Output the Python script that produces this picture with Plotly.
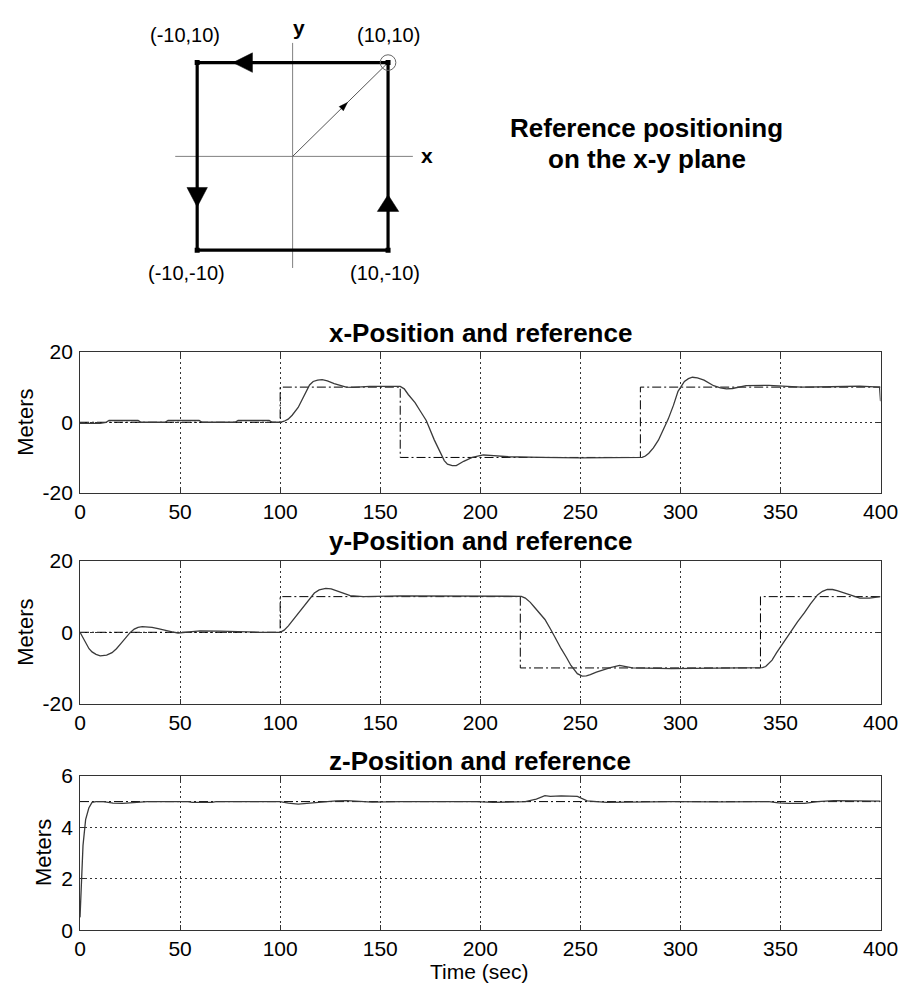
import math
import plotly.graph_objects as go

W, H = 919, 993
FONT = "Liberation Sans, Arial, sans-serif"

# ---------------- data ----------------
# square path on the x-y plane (metres)
square_x = [-10, 10, 10, -10, -10]
square_y = [10, 10, -10, -10, 10]
corner_labels = ["(-10,10)", "(10,10)", "(-10,-10)", "(10,-10)"]
corner_x = [-10, 10, -10, 10]
corner_y = [10, 10, -10, -10]
axis_x_extent = [-12.3, 12.6]
axis_y_extent = [-11.9, 12.1]
start_x = [0, 10]
start_y = [0, 10]

# time axis ticks
time_ticks = [0, 50, 100, 150, 200, 250, 300, 350, 400]

# x-position: measured and reference
x_t = [0, 5, 10, 13, 14.5, 29, 30.5, 42.5, 44, 59.5, 61, 77.5, 79, 94.5, 96, 100, 102, 104,
       106, 109, 112, 114.7, 116.5, 118.7, 121, 123.6, 127, 130, 133, 136.6, 140, 144.7, 160,
       162, 164, 167.4, 170, 173, 177, 180.4, 182, 183.6, 186, 188, 191.7, 196, 201.5, 205,
       214, 230, 250, 280.9, 282.5, 284.2, 286.5, 289, 291.5, 293.9, 296.5, 298.8, 302, 304,
       306, 308.5, 311.8, 314, 316.6, 320, 323, 326, 332.8, 344.2, 360.4, 375, 389.6, 399.5,
       400]
x_v = [-0.3, -0.4, -0.3, 0.0, 0.5, 0.5, 0.0, 0.0, 0.5, 0.5, 0.0, 0.0, 0.5, 0.5, 0.0, 0.0,
       0.3, 0.9, 2.0, 4.2, 7.8, 10.6, 11.6, 12.0, 12.1, 11.8, 11.0, 10.4, 10.0, 9.9, 10.0,
       10.2, 10.2, 9.5, 7.9, 5.6, 3.2, 0.5, -5.0, -9.3, -10.9, -11.9, -12.3, -12.3, -11.1,
       -10.0, -9.3, -9.4, -9.8, -10.0, -10.1, -10.0, -9.6, -8.8, -7.3, -5.1, -2.2, 0.9, 4.8,
       8.8, 11.6, 12.4, 12.8, 12.6, 12.0, 11.2, 10.4, 9.8, 9.5, 9.6, 10.4, 10.5, 10.0, 10.1,
       10.3, 10.0, 6.0]
x_ref_t = [0, 100, 160, 280, 400]
x_ref_v = [0, 10, -10, 10, 10]

# y-position: measured and reference
y_t = [0, 1.5, 2.8, 4.5, 6, 8, 10.1, 13.3, 16, 18.2, 20.5, 23, 25, 27.1, 29, 31.1, 34, 36,
       39, 42.5, 46, 49, 55, 60, 70, 80, 90, 100, 102, 104.1, 107, 110.6, 114, 117.1, 119.5,
       122.8, 125.5, 128.5, 131.5, 135, 141.5, 160, 186.9, 200, 219.3, 220.5, 222.5, 225,
       227.4, 230, 232.3, 235.5, 238, 240.4, 243, 245.3, 248.5, 250.9, 253, 255, 258, 261.5,
       265, 269.6, 272, 276, 295.5, 320, 339.3, 341, 342.6, 345.8, 348, 350.7, 353, 355.6,
       358.5, 362, 365, 368.5, 371, 373.4, 376, 378.3, 381.5, 384.8, 389.6, 394.5, 400]
y_v = [0.0, -1.5, -3.2, -4.6, -5.5, -6.2, -6.6, -6.4, -5.7, -4.6, -3.1, -1.4, -0.1, 0.9, 1.4,
       1.6, 1.6, 1.4, 1.0, 0.5, 0.1, -0.2, 0.2, 0.4, 0.3, 0.1, 0.0, 0.0, 0.6, 1.8, 3.9, 6.4,
       8.9, 11.0, 11.9, 12.3, 12.2, 11.7, 11.0, 10.3, 10.0, 10.2, 10.2, 10.2, 10.2, 10.1,
       9.6, 8.4, 6.8, 5.2, 3.6, 0.5, -2.2, -4.6, -7.0, -9.3, -11.6, -12.3, -12.2, -11.9,
       -11.2, -10.5, -9.9, -9.3, -9.6, -10.0, -10.2, -10.0, -10.0, -9.9, -9.6, -7.8, -5.8,
       -3.6, -1.4, 0.5, 2.9, 5.5, 8.0, 10.5, 11.5, 12.0, 12.0, 11.7, 11.0, 10.5, 9.6, 9.6,
       10.0]
y_ref_t = [0, 100, 220, 340, 400]
y_ref_v = [0, 10, -10, 10, 10]

# z-position: measured and reference
z_t = [0, 0.6, 1.5, 2.8, 4.4, 6, 8, 11.7, 14, 16.5, 21.4, 25, 27.9, 33.6, 50, 54, 56, 66,
       68, 80, 100, 102, 104.1, 109, 112, 115.5, 120, 125.2, 128, 133.3, 137, 141.5, 146,
       160, 182, 198.2, 206.3, 215, 222.5, 228, 232.3, 235, 240.4, 248.5, 251, 253.4, 263.1,
       280, 295.5, 320, 344.2, 349, 353.9, 362, 368.5, 376.6, 389.6, 400]
z_v = [0.5, 1.77, 3.3, 4.3, 4.75, 4.97, 5.0, 5.0, 4.97, 4.94, 4.93, 4.95, 4.97, 5.0, 5.0,
       5.0, 4.97, 4.97, 5.0, 5.0, 5.0, 4.97, 4.94, 4.9, 4.92, 4.95, 4.97, 5.0, 5.03, 5.04,
       5.02, 5.02, 4.98, 5.0, 5.0, 5.0, 4.97, 4.99, 5.0, 5.1, 5.23, 5.2, 5.22, 5.2, 5.12,
       5.03, 4.97, 4.99, 5.0, 4.99, 5.0, 4.95, 4.93, 4.93, 5.0, 5.04, 5.04, 5.02]
z_ref_t = [0, 400]
z_ref_v = [5, 5]

# ---------------- layout helpers ----------------
def px(xp):
    return xp / W


def py(yp):
    return 1 - yp / H


# diagram frame: pixel scale and centre of the square
SX, SY = 9.8, 9.6
CX, CY = 294.3, 147.8
DIAG_X = (120, 460)
DIAG_Y = (0, 290)
diag_xrange = [(DIAG_X[0] - CX) / SX, (DIAG_X[1] - CX) / SX]
diag_yrange = [(CY - DIAG_Y[1]) / SY, (CY - DIAG_Y[0]) / SY]


def arrowhead(tx, ty, angle_deg, length, width):
    """Triangle with its tip at (tx, ty), pointing along angle_deg (screen pixels)."""
    a = math.radians(angle_deg)
    ux, uy = math.cos(a), math.sin(a)
    bx, by = -ux * length, -uy * length
    nx, ny = -uy * width / 2, ux * width / 2
    xs = [tx, tx + (bx + nx) / SX, tx + (bx - nx) / SX, tx]
    ys = [ty, ty + (by + ny) / SY, ty + (by - ny) / SY, ty]
    return xs, ys


def tick_text(vals):
    # plain hyphen-minus, as in the printed figure
    return [str(v) for v in vals]


fig = go.Figure()

# ---------------- diagram ----------------
diag = dict(xaxis="x", yaxis="y", hoverinfo="skip", showlegend=False)
fig.add_trace(go.Scatter(x=axis_x_extent, y=[0, 0], mode="lines",
                         line=dict(color="#808080", width=1), **diag))
fig.add_trace(go.Scatter(x=[0, 0], y=axis_y_extent, mode="lines",
                         line=dict(color="#808080", width=1), **diag))
fig.add_trace(go.Scatter(x=start_x, y=start_y, mode="lines",
                         line=dict(color="#555555", width=1), **diag))
fig.add_trace(go.Scatter(x=square_x, y=square_y, mode="lines",
                         line=dict(color="black", width=3.2), **diag))
fig.add_trace(go.Scatter(x=corner_x, y=corner_y, mode="markers",
                         marker=dict(symbol="square", size=5, color="black"), **diag))

heads = [
    (-6.25, 10, 180, 20, 20),
    (-10, -5.4, 270, 20, 21),
    (10, -4.1, 90, 17, 22),
    (5.75, 5.75, 45, 9, 6),
]
for tx, ty, ang, ln, wd in heads:
    hx, hy = arrowhead(tx, ty, ang, ln, wd)
    fig.add_trace(go.Scatter(x=hx, y=hy, mode="lines", fill="toself", fillcolor="black",
                             line=dict(color="black", width=0.5), **diag))

fig.add_shape(type="circle", xref="x", yref="y",
              x0=start_x[1] - 8 / SX, x1=start_x[1] + 8 / SX,
              y0=start_y[1] - 8 / SY, y1=start_y[1] + 8 / SY,
              line=dict(color="#666666", width=1))

label_shift = [(-12, 28), (0, 28), (-11, -23), (-3, -23)]
for lab, lx, ly, (dx, dy) in zip(corner_labels, corner_x, corner_y, label_shift):
    fig.add_annotation(x=lx, y=ly, xref="x", yref="y", text=lab, showarrow=False,
                       xanchor="center", yanchor="middle", xshift=dx, yshift=dy,
                       font=dict(family=FONT, size=20, color="black"))
fig.add_annotation(x=0, y=axis_y_extent[1], xref="x", yref="y", text="<b>y</b>",
                   showarrow=False, xanchor="center", yanchor="middle", xshift=6, yshift=15,
                   font=dict(family=FONT, size=21, color="black"))
fig.add_annotation(x=axis_x_extent[1], y=0, xref="x", yref="y", text="<b>x</b>",
                   showarrow=False, xanchor="center", yanchor="middle", xshift=14, yshift=1,
                   font=dict(family=FONT, size=21, color="black"))

fig.add_annotation(x=px(658), y=py(119), xref="paper", yref="paper",
                   text="<b>Reference positioning</b>", showarrow=False,
                   xanchor="center", yanchor="middle",
                   font=dict(family=FONT, size=26, color="black"))
fig.add_annotation(x=px(658), y=py(150), xref="paper", yref="paper",
                   text="<b>on the x-y plane</b>", showarrow=False,
                   xanchor="center", yanchor="middle",
                   font=dict(family=FONT, size=26, color="black"))

# ---------------- time histories ----------------
PLOT_X = (76, 898)
panels = [
    # (axis suffix, top px, bottom px, title, title centre px, measured, reference,
    #  y range, y ticks, "Meters" centre px)
    ("2", 348, 492, "x-Position and reference", 329, (x_t, x_v), (x_ref_t, x_ref_v),
     [-20, 20], [-20, 0, 20], 20),
    ("3", 562, 708, "y-Position and reference", 542, (y_t, y_v), (y_ref_t, y_ref_v),
     [-20, 20], [-20, 0, 20], 20),
    ("4", 782, 940, "z-Position and reference", 767, (z_t, z_v), (z_ref_t, z_ref_v),
     [0, 6], [0, 2, 4, 6], 38),
]

axis_style = dict(
    showline=True, linecolor="#333333", linewidth=1, mirror="ticks",
    ticks="inside", ticklen=5, tickcolor="#333333", tickwidth=1,
    showgrid=True, gridcolor="#333333", gridwidth=1, griddash="2px,3px",
    zeroline=False, fixedrange=True,
    tickfont=dict(family=FONT, size=21, color="black"),
)

layout_axes = {
    "xaxis": dict(domain=[px(DIAG_X[0]), px(DIAG_X[1])], range=diag_xrange, visible=False,
                  fixedrange=True),
    "yaxis": dict(domain=[py(DIAG_Y[1]), py(DIAG_Y[0])], range=diag_yrange, visible=False,
                  fixedrange=True),
}

for suf, top, bot, title, title_y, meas, ref, yr, yt, mx in panels:
    xa, ya = "x" + suf, "y" + suf
    fig.add_trace(go.Scatter(x=ref[0], y=ref[1], xaxis=xa, yaxis=ya, mode="lines",
                             line=dict(color="black", width=1, dash="9px,3px,2px,3px",
                                       shape="hv"),
                             hoverinfo="skip", showlegend=False))
    fig.add_trace(go.Scatter(x=meas[0], y=meas[1], xaxis=xa, yaxis=ya, mode="lines",
                             line=dict(color="#3a3a3a", width=1.3),
                             hoverinfo="skip", showlegend=False))
    layout_axes["xaxis" + suf] = dict(axis_style, domain=[px(PLOT_X[0]), px(PLOT_X[1])],
                                      range=[0, 400], tickvals=time_ticks,
                                      ticktext=tick_text(time_ticks), anchor=ya)
    layout_axes["yaxis" + suf] = dict(axis_style, domain=[py(bot), py(top)], range=yr,
                                      tickvals=yt, ticktext=tick_text(yt), anchor=xa,
                                      ticklabelstandoff=2)
    fig.add_annotation(x=px((PLOT_X[0] + PLOT_X[1]) / 2), y=py(title_y), xref="paper",
                       yref="paper", text="<b>" + title + "</b>", showarrow=False,
                       xanchor="center", yanchor="middle",
                       font=dict(family=FONT, size=26, color="black"))
    fig.add_annotation(x=px(mx), y=py((top + bot) / 2), xref="paper", yref="paper",
                       text="Meters", textangle=-90, showarrow=False,
                       xanchor="center", yanchor="middle",
                       font=dict(family=FONT, size=22, color="black"))

fig.add_annotation(x=px(486), y=py(982), xref="paper", yref="paper", text="Time (sec)",
                   showarrow=False, xanchor="center", yanchor="middle",
                   font=dict(family=FONT, size=21, color="black"))

fig.update_layout(
    width=W, height=H,
    margin=dict(l=0, r=0, t=0, b=0),
    paper_bgcolor="white", plot_bgcolor="white",
    showlegend=False,
    **layout_axes,
)

fig.write_html("out.html")
